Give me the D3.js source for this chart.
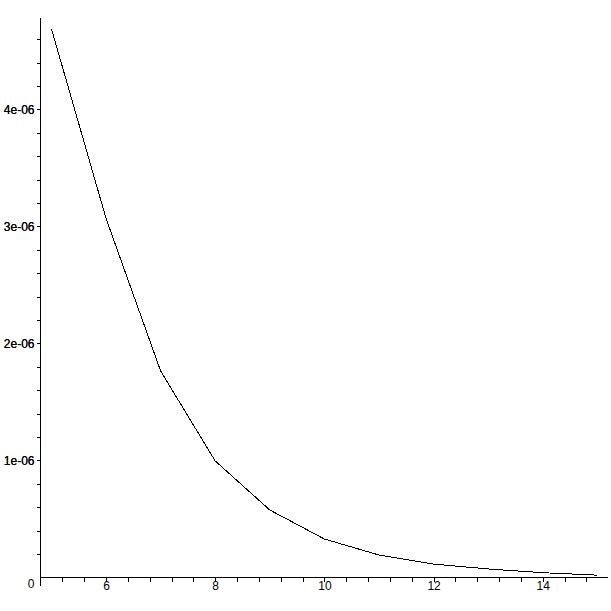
<!DOCTYPE html>
<html>
<head>
<meta charset="utf-8">
<script src="https://cdn.jsdelivr.net/npm/d3@7"></script>
<style>
  html, body { margin: 0; padding: 0; background: #fff; }
  svg { display: block; }
  text { font-family: "Liberation Sans", Arial, sans-serif; font-size: 12px; fill: #000; }
</style>
</head>
<body>
<svg id="chart" width="611" height="611"></svg>
<script>
// Data
const xValues = [5, 6, 7, 8, 9, 10, 11, 12, 13, 14, 15];
const yValues = [4.69e-6, 3.07e-6, 1.765e-6, 0.996e-6, 0.577e-6, 0.329e-6, 0.192e-6, 0.115e-6, 0.073e-6, 0.041e-6, 0.020e-6];

// Tick labels
const xMajorTicks = [6, 8, 10, 12, 14];
const xTickLabels = ["6", "8", "10", "12", "14"];
const yMajorTicks = [0, 1e-6, 2e-6, 3e-6, 4e-6];
const yTickLabels = ["0", "1e-06", "2e-06", "3e-06", "4e-06"];

const svg = d3.select("#chart");

const x = d3.scaleLinear().domain([4.8, 15.2]).range([40.5, 608.3]);
const y = d3.scaleLinear().domain([0, 4.77e-6]).range([577.5, 19.4]);

// minor tick positions (every 0.4 in x, every 0.2e-6 in y)
const xMinor = d3.range(0, 26).map(i => +(4.8 + 0.4 * i).toFixed(2)).filter(v => v > 4.9);
const yMinor = d3.range(0, 24).map(i => +(0.2e-6 * i).toExponential(3)).filter(v => v > 0 && v <= 4.7e-6);

// X axis
const xAxisG = svg.append("g").attr("transform", `translate(0,${y(0)})`);
xAxisG.call(
  d3.axisBottom(x)
    .tickValues(xMinor)
    .tickSize(4)
    .tickFormat(d => {
      const i = xMajorTicks.findIndex(v => Math.abs(v - d) < 1e-9);
      return i >= 0 ? xTickLabels[i] : "";
    })
    .tickSizeOuter(0)
);
xAxisG.select(".domain").remove();
xAxisG.append("line")
  .attr("x1", x(4.8)).attr("x2", x(15.2))
  .attr("y1", 0).attr("y2", 0)
  .attr("stroke", "#000").attr("shape-rendering", "crispEdges");
xAxisG.selectAll(".tick line").attr("stroke", "#000").attr("shape-rendering", "crispEdges");
xAxisG.selectAll(".tick text").attr("dy", "0.55em").attr("y", 6);
xAxisG.attr("font-size", null).attr("font-family", null);

// Y axis
const yAxisG = svg.append("g").attr("transform", `translate(${x(4.8)},0)`);
const yTickVals = yMinor.concat(yMajorTicks.filter(v => v > 0)).sort((a, b) => a - b);
yAxisG.call(
  d3.axisLeft(y)
    .tickValues([0].concat(yTickVals))
    .tickSize(4)
    .tickFormat(d => {
      const i = yMajorTicks.findIndex(v => Math.abs(v - d) < 1e-12);
      return i >= 0 ? yTickLabels[i] : "";
    })
    .tickSizeOuter(0)
);
yAxisG.select(".domain").remove();
yAxisG.append("line")
  .attr("x1", 0).attr("x2", 0)
  .attr("y1", y(4.77e-6) - 1).attr("y2", y(0) + 8)
  .attr("stroke", "#000").attr("shape-rendering", "crispEdges");
yAxisG.selectAll(".tick line").attr("stroke", "#000").attr("shape-rendering", "crispEdges");
yAxisG.selectAll(".tick").filter(d => d === 0).select("line").remove();
yAxisG.selectAll(".tick").filter(d => d === 0).select("text").attr("dy", "0.85em").attr("x", -6);
yAxisG.selectAll(".tick text").filter(d => d !== 0).attr("x", -6);
yAxisG.attr("font-size", null).attr("font-family", null);

// Curve
const line = d3.line()
  .x((d, i) => x(xValues[i]))
  .y(d => y(d));

svg.append("path")
  .datum(yValues)
  .attr("d", line)
  .attr("fill", "none")
  .attr("stroke", "#000")
  .attr("stroke-width", 1)
  .attr("shape-rendering", "crispEdges");
</script>
</body>
</html>
